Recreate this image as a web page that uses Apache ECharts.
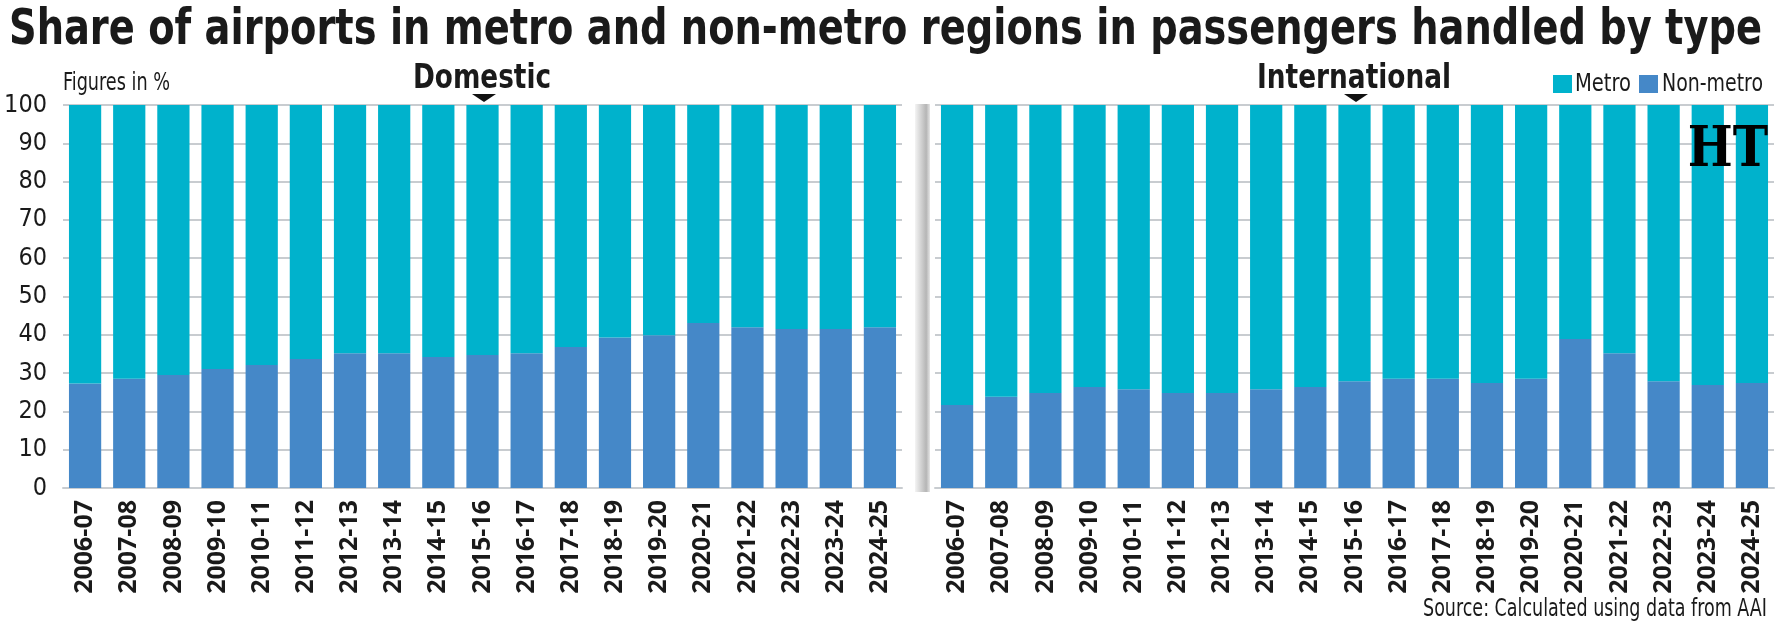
<!DOCTYPE html>
<html>
<head>
<meta charset="utf-8">
<script src="https://cdn.jsdelivr.net/npm/echarts@6/dist/echarts.min.js"></script>
<style>
  html, body { margin: 0; padding: 0; background: #fff; }
  #chart { width: 1785px; height: 627px; }
</style>
</head>
<body>
<div id="chart"></div>
<script>
// financial years
const categories = ['2006-07', '2007-08', '2008-09', '2009-10', '2010-11', '2011-12', '2012-13',
  '2013-14', '2014-15', '2015-16', '2016-17', '2017-18', '2018-19', '2019-20', '2020-21',
  '2021-22', '2022-23', '2023-24', '2024-25']

// share of passengers, %
const domNonMetro = [27.3, 28.5, 29.5, 31.1, 32.1, 33.7, 35.2, 35.2, 34.2, 34.7, 35.2, 36.8, 39.3, 39.9, 43.1, 42.0, 41.5, 41.5, 42.0]
const domMetro = [72.7, 71.5, 70.5, 68.9, 67.9, 66.3, 64.8, 64.8, 65.8, 65.3, 64.8, 63.2, 60.7, 60.1, 56.9, 58.0, 58.5, 58.5, 58.0]
const intlNonMetro = [21.7, 23.8, 24.8, 26.4, 25.8, 24.8, 24.8, 25.8, 26.4, 27.9, 28.5, 28.5, 27.4, 28.5, 38.9, 35.2, 27.9, 26.9, 27.4]
const intlMetro = [78.3, 76.2, 75.2, 73.6, 74.2, 75.2, 75.2, 74.2, 73.6, 72.1, 71.5, 71.5, 72.6, 71.5, 61.1, 64.8, 72.1, 73.1, 72.6]

const METRO = '#00b2cc'
const NON_METRO = '#4588c8'
const GRID_COLOR = '#c8ccd0'
const INK = '#1a1a1a'
const narrow = "'Liberation Sans Narrow', 'DejaVu Sans Condensed', 'Roboto', sans-serif"

const chart = echarts.init(document.getElementById('chart'))

// squeeze a text horizontally so it covers the given width (fonts here are wider than the original)
const ctx = document.createElement('canvas').getContext('2d')
function fit(text, font, width) {
  ctx.font = font
  return width / ctx.measureText(text).width
}

function label(text, font, x, y, width, align) {
  return {
    type: 'text', x, y,
    scaleX: fit(text, font, width),
    style: { text, font, fill: INK, align: align || 'left', verticalAlign: 'middle' }
  }
}

function xAxis(gridIndex) {
  return {
    type: 'category',
    gridIndex,
    data: categories,
    axisTick: { show: false },
    axisLine: { show: true, lineStyle: { color: GRID_COLOR, width: 2 } },
    axisLabel: {
      rotate: 90,
      interval: 0,
      margin: 12,
      color: INK,
      fontFamily: "'Open Sans', sans-serif",
      fontWeight: 'bold',
      fontSize: 25
    }
  }
}

function yAxis(gridIndex, showLabels) {
  return {
    type: 'value',
    gridIndex,
    min: 0,
    max: 100,
    interval: 10,
    axisLine: { show: false },
    axisTick: { show: false },
    splitLine: { lineStyle: { color: GRID_COLOR, width: 2 } },
    axisLabel: {
      show: showLabels,
      margin: 16,
      color: INK,
      fontFamily: narrow,
      fontSize: 25
    }
  }
}

function bars(name, data, idx, color) {
  return {
    name,
    type: 'bar',
    stack: 'share' + idx,
    xAxisIndex: idx,
    yAxisIndex: idx,
    barCategoryGap: '27%',
    data,
    itemStyle: { color },
    emphasis: { disabled: true },
    animation: false
  }
}

function pointer(cx) {
  return {
    type: 'polygon',
    shape: { points: [[cx - 12, 94], [cx + 12, 94], [cx, 102]] },
    style: { fill: '#111' }
  }
}

chart.setOption({
  animation: false,
  grid: [
    { left: 63, right: 883, top: 105, bottom: 139 },
    { left: 935, right: 11, top: 105, bottom: 139 }
  ],
  xAxis: [xAxis(0), xAxis(1)],
  yAxis: [yAxis(0, true), yAxis(1, false)],
  series: [
    bars('Non-metro', domNonMetro, 0, NON_METRO),
    bars('Metro', domMetro, 0, METRO),
    bars('Non-metro', intlNonMetro, 1, NON_METRO),
    bars('Metro', intlMetro, 1, METRO)
  ],
  graphic: [
    label('Share of airports in metro and non-metro regions in passengers handled by type',
      'bold 50px ' + narrow, 9, 31, 1753),
    label('Figures in %', '25px ' + narrow, 63, 83, 107),
    label('Domestic', 'bold 34px ' + narrow, 482, 79, 138, 'center'),
    pointer(484),
    label('International', 'bold 34px ' + narrow, 1354, 79, 194, 'center'),
    pointer(1356),
    // legend
    { type: 'rect', shape: { x: 1553, y: 75, width: 19, height: 18 }, style: { fill: METRO } },
    label('Metro', '24px ' + narrow, 1575, 85, 56),
    { type: 'rect', shape: { x: 1639, y: 75, width: 19, height: 18 }, style: { fill: NON_METRO } },
    label('Non-metro', '24px ' + narrow, 1662, 85, 101),
    // divider between the panels
    {
      type: 'rect',
      shape: { x: 915, y: 104, width: 15, height: 388 },
      style: {
        fill: new echarts.graphic.LinearGradient(0, 0, 1, 0, [
          { offset: 0, color: '#f4f4f4' },
          { offset: 0.75, color: '#b5b5b5' },
          { offset: 1, color: '#e6e6e6' }
        ])
      }
    },
    // HT masthead
    {
      type: 'text', x: 1728, y: 151, z: 10,
      scaleX: 0.85,
      style: {
        text: 'HT', font: "bold 56px 'DejaVu Serif', serif", fill: '#000',
        align: 'center', verticalAlign: 'middle'
      }
    },
    label('Source: Calculated using data from AAI', '25px ' + narrow, 1767, 609, 344, 'right')
  ]
})
</script>
</body>
</html>
